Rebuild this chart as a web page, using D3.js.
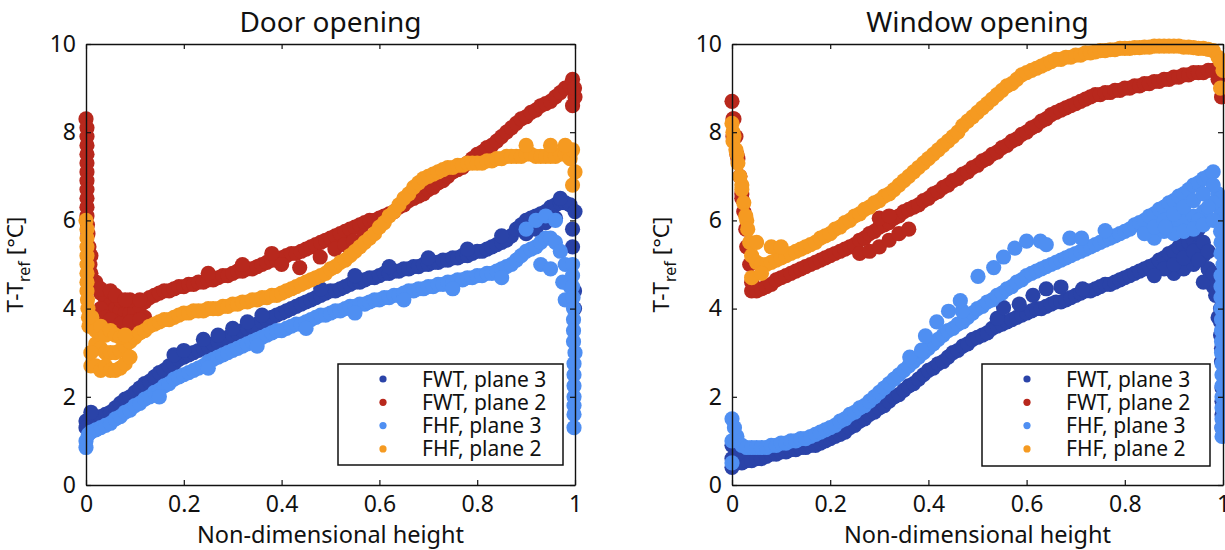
<!DOCTYPE html>
<html>
<head>
<meta charset="utf-8">
<script src="https://cdn.jsdelivr.net/npm/d3@7"></script>
<style>
  html, body { margin: 0; padding: 0; background: #ffffff; }
  svg { display: block; }
  text { font-family: "Noto Sans", "Open Sans", sans-serif; fill: #111; }
</style>
</head>
<body>
<svg id="chart" width="1225" height="550"></svg>
<script>
// Non-dimensional heights of the sampled band centres (step 0.01)
const heights = [0, .01, .02, .03, .04, .05, .06, .07, .08, .09, .10, .11, .12, .13, .14, .15, .16, .17, .18, .19,
  .20, .21, .22, .23, .24, .25, .26, .27, .28, .29, .30, .31, .32, .33, .34, .35, .36, .37, .38, .39,
  .40, .41, .42, .43, .44, .45, .46, .47, .48, .49, .50, .51, .52, .53, .54, .55, .56, .57, .58, .59,
  .60, .61, .62, .63, .64, .65, .66, .67, .68, .69, .70, .71, .72, .73, .74, .75, .76, .77, .78, .79,
  .80, .81, .82, .83, .84, .85, .86, .87, .88, .89, .90, .91, .92, .93, .94, .95, .96, .97, .98, .99, 1.0];

// ---- Door opening: T - T_ref [°C] ----
const doorFwt3 = [1.45, 1.5, 1.5, 1.55, 1.6, 1.65, 1.75, 1.85, 1.95, 2.0,
  2.1, 2.2, 2.3, 2.35, 2.45, 2.55, 2.6, 2.7, 2.75, 2.85,
  2.9, 2.95, 3.0, 3.05, 3.1, 3.15, 3.2, 3.25, 3.3, 3.35,
  3.4, 3.45, 3.5, 3.55, 3.6, 3.65, 3.7, 3.75, 3.8, 3.85,
  3.9, 3.95, 4.0, 4.05, 4.1, 4.15, 4.2, 4.25, 4.3, 4.35,
  4.4, 4.4, 4.45, 4.5, 4.55, 4.6, 4.6, 4.65, 4.7, 4.7,
  4.75, 4.8, 4.8, 4.85, 4.85, 4.9, 4.9, 4.95, 4.95, 5.0,
  5.0, 5.05, 5.05, 5.1, 5.1, 5.15, 5.15, 5.2, 5.2, 5.25,
  5.3, 5.3, 5.35, 5.4, 5.45, 5.5, 5.55, 5.65, 5.8, 5.9,
  6.0, 6.05, 6.1, 6.15, 6.2, 6.3, 6.35, 6.4, 6.4, 6.35, 6.2];
const doorFwt2 = [8.3, 5.2, 4.6, 4.35, 4.2, 4.1, 4.0, 3.95, 3.9, 3.9,
  3.95, 4.05, 4.15, 4.25, 4.3, 4.35, 4.4, 4.4, 4.45, 4.5,
  4.5, 4.55, 4.55, 4.6, 4.6, 4.65, 4.65, 4.7, 4.75, 4.75,
  4.8, 4.85, 4.85, 4.9, 4.9, 4.95, 5.0, 5.05, 5.1, 5.1,
  5.15, 5.2, 5.25, 5.25, 5.3, 5.35, 5.4, 5.45, 5.5, 5.55,
  5.6, 5.65, 5.7, 5.75, 5.8, 5.85, 5.9, 5.95, 6.0, 6.0,
  6.05, 6.1, 6.15, 6.2, 6.3, 6.35, 6.45, 6.5, 6.55, 6.6,
  6.7, 6.75, 6.85, 6.9, 7.0, 7.1, 7.15, 7.2, 7.3, 7.4,
  7.5, 7.55, 7.65, 7.7, 7.8, 7.9, 8.0, 8.1, 8.2, 8.3,
  8.35, 8.45, 8.5, 8.6, 8.65, 8.7, 8.8, 8.9, 9.0, 9.05, 8.8];
const doorFhf3 = [1.0, 1.2, 1.25, 1.3, 1.35, 1.4, 1.5, 1.55, 1.65, 1.7,
  1.8, 1.85, 1.95, 2.0, 2.1, 2.15, 2.25, 2.3, 2.4, 2.45,
  2.5, 2.55, 2.6, 2.65, 2.7, 2.8, 2.85, 2.9, 2.95, 3.0,
  3.05, 3.1, 3.15, 3.2, 3.25, 3.3, 3.35, 3.4, 3.45, 3.5,
  3.5, 3.55, 3.6, 3.65, 3.65, 3.7, 3.75, 3.8, 3.85, 3.85,
  3.9, 3.95, 3.95, 4.0, 4.05, 4.05, 4.1, 4.1, 4.15, 4.2,
  4.2, 4.25, 4.25, 4.3, 4.3, 4.35, 4.4, 4.4, 4.45, 4.45,
  4.5, 4.5, 4.55, 4.55, 4.6, 4.6, 4.65, 4.65, 4.7, 4.7,
  4.75, 4.75, 4.8, 4.8, 4.85, 4.9, 4.95, 5.0, 5.1, 5.2,
  5.3, 5.35, 5.4, 5.5, 5.6, 5.6, 5.5, 5.3, 5.0, 4.5, 3.0];
const doorFhf2 = [6.0, 3.6, 3.2, 3.1, 3.0, 3.0, 3.0, 3.05, 3.15, 3.25,
  3.35, 3.45, 3.5, 3.6, 3.65, 3.7, 3.75, 3.75, 3.8, 3.85,
  3.9, 3.9, 3.95, 3.95, 3.95, 4.0, 4.0, 4.0, 4.05, 4.05,
  4.1, 4.1, 4.15, 4.15, 4.2, 4.2, 4.25, 4.25, 4.3, 4.3,
  4.35, 4.4, 4.45, 4.5, 4.55, 4.6, 4.65, 4.7, 4.75, 4.8,
  4.9, 4.95, 5.05, 5.1, 5.2, 5.3, 5.4, 5.5, 5.6, 5.7,
  5.85, 5.95, 6.1, 6.2, 6.35, 6.5, 6.6, 6.75, 6.85, 6.95,
  7.0, 7.05, 7.1, 7.15, 7.2, 7.2, 7.25, 7.25, 7.3, 7.3,
  7.3, 7.3, 7.35, 7.35, 7.4, 7.4, 7.45, 7.45, 7.45, 7.45,
  7.5, 7.5, 7.45, 7.45, 7.45, 7.45, 7.45, 7.5, 7.5, 7.4, 7.1];

// Extra samples: near-wall columns, band spread and stray points [height, value]
const doorFwt3Extra = [[0, 1.3], [0.01, 1.65], [0.9, 5.7], [0.92, 5.8], [0.94, 5.95], [0.96, 6.05], [0.97, 6.5],
  [0.995, 5.8], [0.995, 5.4], [0.999, 4.4], [0.999, 4.0], [0.18, 2.95], [0.24, 3.3], [0.3, 3.55], [0.36, 3.85],
  [0.2, 3.05], [0.27, 3.4], [0.33, 3.7], [0.48, 4.45], [0.55, 4.75], [0.62, 4.95], [0.7, 5.15], [0.78, 5.35], [0.85, 5.65]];
const doorFwt2Extra = [[0.002, 8.1], [0.002, 7.9], [0.002, 7.7], [0.002, 7.5], [0.002, 7.3], [0.002, 7.1],
  [0.002, 6.9], [0.002, 6.7], [0.002, 6.5], [0.002, 6.3], [0.002, 6.1], [0.003, 5.9], [0.004, 5.7],
  [0.006, 5.4], [0.008, 5.0], [0.01, 4.8], [0.03, 4.45], [0.03, 4.0], [0.04, 3.8], [0.05, 4.4], [0.06, 3.7],
  [0.07, 4.2], [0.08, 3.6], [0.09, 4.2], [0.1, 3.6], [0.11, 4.2], [0.12, 3.8], [0.05, 3.75], [0.07, 3.65],
  [0.09, 3.7], [0.11, 3.75], [0.06, 4.3], [0.08, 4.2],
  [0.995, 9.2], [0.995, 8.6], [0.999, 9.0], [0.437, 4.93], [0.479, 5.17], [0.509, 5.35], [0.529, 5.45],
  [0.547, 5.53], [0.569, 5.65], [0.4, 5.0], [0.25, 4.8], [0.32, 5.0], [0.38, 5.25]];
const doorFhf3Extra = [[0, 0.85], [0.005, 1.15], [0.9, 5.8], [0.92, 6.0], [0.94, 6.1], [0.96, 6.0], [0.93, 5.0],
  [0.95, 4.9], [0.975, 4.6], [0.98, 4.2], [0.995, 5.0], [0.995, 4.75], [0.995, 4.5], [0.996, 4.25],
  [0.997, 4.0], [0.997, 3.75], [0.997, 3.5], [0.997, 3.25], [0.998, 2.75], [0.998, 2.5], [0.998, 2.25],
  [0.998, 2.0], [0.998, 1.8], [0.998, 1.6], [0.998, 1.3], [0.15, 2.0], [0.25, 2.65], [0.35, 3.15], [0.45, 3.55],
  [0.55, 3.9], [0.65, 4.2], [0.75, 4.45], [0.85, 4.7]];
const doorFhf2Extra = [[0.002, 5.8], [0.002, 5.6], [0.002, 5.4], [0.002, 5.2], [0.002, 5.0], [0.002, 4.8],
  [0.002, 4.6], [0.002, 4.4], [0.003, 4.2], [0.004, 4.0], [0.005, 3.8], [0.006, 3.6],
  [0.01, 3.0], [0.01, 2.7], [0.012, 3.8], [0.02, 2.7], [0.02, 3.5], [0.03, 2.6], [0.03, 3.6], [0.04, 2.7],
  [0.04, 3.4], [0.05, 2.6], [0.05, 3.5], [0.06, 2.6], [0.06, 3.4], [0.07, 2.65], [0.07, 3.35], [0.08, 2.75],
  [0.08, 3.4], [0.09, 2.9], [0.995, 6.8], [0.995, 7.6], [0.9, 7.7], [0.95, 7.7], [0.98, 7.7]];

// ---- Window opening: T - T_ref [°C] ----
const windowFwt3 = [0.6, 0.55, 0.5, 0.55, 0.55, 0.6, 0.6, 0.65, 0.7, 0.7,
  0.75, 0.75, 0.8, 0.8, 0.85, 0.85, 0.9, 0.9, 0.95, 1.0,
  1.05, 1.1, 1.15, 1.2, 1.3, 1.35, 1.45, 1.5, 1.6, 1.65,
  1.75, 1.8, 1.9, 2.0, 2.05, 2.15, 2.25, 2.3, 2.4, 2.5,
  2.6, 2.65, 2.75, 2.8, 2.9, 3.0, 3.05, 3.15, 3.2, 3.3,
  3.35, 3.4, 3.45, 3.55, 3.6, 3.65, 3.7, 3.75, 3.8, 3.85,
  3.9, 3.95, 4.0, 4.0, 4.05, 4.1, 4.15, 4.15, 4.2, 4.25,
  4.3, 4.35, 4.4, 4.4, 4.45, 4.5, 4.55, 4.55, 4.6, 4.65,
  4.7, 4.75, 4.8, 4.85, 4.9, 4.95, 5.0, 5.1, 5.15, 5.25,
  5.3, 5.4, 5.45, 5.5, 5.55, 5.4, 5.2, 4.9, 4.5, 3.8, 2.5];
const windowFwt2 = [8.7, 7.5, 6.5, 5.4, 4.4, 4.4, 4.45, 4.5, 4.55, 4.65,
  4.7, 4.75, 4.8, 4.85, 4.9, 4.95, 5.0, 5.05, 5.1, 5.15,
  5.2, 5.25, 5.3, 5.35, 5.4, 5.45, 5.55, 5.6, 5.7, 5.75,
  5.85, 5.9, 5.95, 6.05, 6.1, 6.2, 6.25, 6.3, 6.35, 6.45,
  6.5, 6.6, 6.65, 6.75, 6.8, 6.9, 6.95, 7.05, 7.1, 7.2,
  7.25, 7.35, 7.4, 7.5, 7.55, 7.65, 7.7, 7.8, 7.85, 7.95,
  8.0, 8.1, 8.15, 8.25, 8.3, 8.4, 8.45, 8.5, 8.55, 8.6,
  8.65, 8.7, 8.75, 8.8, 8.85, 8.85, 8.9, 8.9, 8.95, 8.95,
  9.0, 9.0, 9.05, 9.05, 9.1, 9.1, 9.15, 9.15, 9.2, 9.2,
  9.25, 9.25, 9.3, 9.3, 9.35, 9.35, 9.35, 9.4, 9.4, 9.2, 8.9];
const windowFhf3 = [1.0, 1.1, 0.9, 0.85, 0.85, 0.85, 0.85, 0.85, 0.9, 0.9,
  0.95, 0.95, 1.0, 1.0, 1.05, 1.05, 1.1, 1.15, 1.2, 1.25,
  1.3, 1.35, 1.45, 1.5, 1.6, 1.65, 1.75, 1.8, 1.9, 2.0,
  2.1, 2.2, 2.3, 2.4, 2.5, 2.6, 2.7, 2.8, 2.9, 3.0,
  3.1, 3.2, 3.3, 3.4, 3.5, 3.55, 3.65, 3.7, 3.8, 3.9,
  4.0, 4.05, 4.15, 4.2, 4.3, 4.35, 4.45, 4.5, 4.6, 4.65,
  4.75, 4.8, 4.85, 4.9, 4.95, 5.0, 5.05, 5.1, 5.15, 5.2,
  5.25, 5.3, 5.35, 5.4, 5.45, 5.5, 5.55, 5.6, 5.65, 5.7,
  5.75, 5.8, 5.9, 5.95, 6.0, 6.1, 6.15, 6.25, 6.3, 6.4,
  6.45, 6.55, 6.6, 6.7, 6.8, 6.85, 6.95, 7.0, 7.1, 6.6, 5.0];
const windowFhf2 = [8.2, 7.5, 6.8, 6.0, 5.2, 5.05, 5.0, 5.0, 5.05, 5.1,
  5.15, 5.2, 5.25, 5.3, 5.35, 5.4, 5.45, 5.5, 5.6, 5.65,
  5.7, 5.8, 5.85, 5.95, 6.0, 6.1, 6.15, 6.25, 6.3, 6.4,
  6.45, 6.55, 6.6, 6.7, 6.8, 6.9, 7.0, 7.1, 7.2, 7.3,
  7.4, 7.5, 7.6, 7.7, 7.8, 7.9, 8.0, 8.15, 8.25, 8.35,
  8.45, 8.55, 8.65, 8.75, 8.85, 8.95, 9.05, 9.1, 9.2, 9.3,
  9.35, 9.4, 9.45, 9.5, 9.55, 9.6, 9.65, 9.65, 9.7, 9.7,
  9.75, 9.75, 9.8, 9.8, 9.82, 9.85, 9.85, 9.87, 9.87, 9.9,
  9.9, 9.9, 9.92, 9.92, 9.93, 9.93, 9.95, 9.95, 9.95, 9.95,
  9.95, 9.95, 9.93, 9.93, 9.92, 9.9, 9.9, 9.88, 9.85, 9.7, 9.4];

const windowFwt3Extra = [[0, 0.9], [0, 0.4], [0.01, 0.7], [0.9, 4.8], [0.92, 4.9], [0.94, 5.0], [0.93, 5.75],
  [0.95, 5.8], [0.97, 4.9], [0.96, 4.6], [0.995, 4.0], [0.995, 3.7], [0.995, 3.4], [0.997, 3.1], [0.997, 2.8],
  [0.998, 2.2], [0.998, 1.9], [0.998, 1.6], [0.998, 1.3], [0.54, 3.78], [0.553, 4.02], [0.585, 4.1],
  [0.613, 4.3], [0.64, 4.45], [0.67, 4.49], [0.714, 4.45],
  [0.88, 4.9], [0.86, 4.75], [0.9, 5.0], [0.92, 5.15], [0.94, 5.3], [0.95, 5.1], [0.96, 5.5], [0.97, 5.3],
  [0.98, 4.8], [0.985, 4.3]];
const windowFwt2Extra = [[0.002, 8.3], [0.002, 7.9], [0.004, 8.3], [0.008, 7.9], [0.012, 7.4], [0.016, 7.0],
  [0.02, 6.6], [0.024, 6.2], [0.028, 5.8], [0.032, 5.4], [0.036, 5.0], [0.04, 4.6],
  [0.26, 5.25], [0.28, 5.3], [0.3, 5.4], [0.32, 5.55], [0.34, 5.7], [0.36, 5.8], [0.3, 6.05], [0.32, 6.1],
  [0.995, 9.2], [0.997, 8.8]];
const windowFhf3Extra = [[0, 1.5], [0, 0.5], [0.005, 1.3], [0.995, 6.5], [0.995, 6.25], [0.995, 6.0],
  [0.995, 5.75], [0.996, 5.5], [0.996, 5.25], [0.996, 4.75], [0.996, 4.5], [0.996, 4.25], [0.996, 4.0],
  [0.997, 3.75], [0.997, 3.5], [0.997, 3.25], [0.997, 3.0], [0.998, 2.75], [0.998, 2.5], [0.998, 2.25],
  [0.998, 2.0], [0.998, 1.75], [0.998, 1.5], [0.998, 1.3], [0.998, 1.1], [0.86, 5.6], [0.88, 5.75],
  [0.9, 5.9], [0.92, 6.0], [0.94, 6.1], [0.96, 6.2], [0.98, 6.4], [0.98, 6.8],
  [0.84, 5.7], [0.86, 5.85], [0.88, 6.0], [0.9, 6.15], [0.92, 6.3], [0.94, 6.45], [0.96, 6.6], [0.97, 6.3],
  [0.95, 6.0], [0.9, 5.7], [0.92, 5.75], [0.94, 5.8], [0.96, 5.9], [0.98, 6.0],
  [0.362, 2.9], [0.386, 3.06], [0.394, 3.38], [0.417, 3.7], [0.441, 3.94], [0.469, 3.95], [0.465, 4.18],
  [0.501, 4.73], [0.533, 4.93], [0.553, 5.17], [0.576, 5.37], [0.6, 5.53], [0.628, 5.53], [0.64, 5.45],
  [0.688, 5.6], [0.712, 5.6], [0.76, 5.77], [0.883, 5.85]];
const windowFhf2Extra = [[0.002, 8.0], [0.002, 7.8], [0.004, 7.9], [0.008, 7.6], [0.012, 7.3], [0.016, 7.0],
  [0.02, 6.7], [0.024, 6.4], [0.028, 6.1], [0.032, 5.8], [0.036, 5.5], [0.04, 4.7], [0.05, 5.5],
  [0.06, 4.8], [0.08, 5.4], [0.1, 5.4], [0.995, 9.0], [0.995, 9.6]];

const seriesNames = ["FWT, plane 3", "FWT, plane 2", "FHF, plane 3", "FHF, plane 2"];
const seriesColors = ["#2a43a8", "#b8281d", "#4f8ff2", "#f59a21"];
const xTicks = [0, 0.2, 0.4, 0.6, 0.8, 1];
const yTicks = [0, 2, 4, 6, 8, 10];

function buildSeries(values, extra) {
  return heights.map((h, i) => [h, values[i]]).concat(extra);
}

const panels = [
  { title: "Door opening", left: 86, right: 575,
    series: [buildSeries(doorFwt3, doorFwt3Extra), buildSeries(doorFwt2, doorFwt2Extra),
             buildSeries(doorFhf3, doorFhf3Extra), buildSeries(doorFhf2, doorFhf2Extra)],
    legend: { x: 338, y: 364, w: 225, h: 101 } },
  { title: "Window opening", left: 732, right: 1223,
    series: [buildSeries(windowFwt3, windowFwt3Extra), buildSeries(windowFwt2, windowFwt2Extra),
             buildSeries(windowFhf3, windowFhf3Extra), buildSeries(windowFhf2, windowFhf2Extra)],
    legend: { x: 982, y: 364, w: 228, h: 102 } }
];

const plotTop = 44, plotBottom = 485;
const svg = d3.select("#chart");

panels.forEach(p => {
  const x = d3.scaleLinear().domain([0, 1]).range([p.left, p.right]);
  const y = d3.scaleLinear().domain([0, 10]).range([plotBottom, plotTop]);
  const g = svg.append("g");

  // scatter bands, one layer per series in legend order
  p.series.forEach((pts, si) => {
    g.append("g").selectAll("circle").data(pts).join("circle")
      .attr("cx", d => x(d[0]))
      .attr("cy", d => y(d[1]))
      .attr("r", 7.6)
      .attr("fill", seriesColors[si]);
  });

  // box axes with inward ticks on all four sides
  const tickLen = 5;
  const axB = g.append("g").attr("transform", `translate(0,${plotBottom})`)
    .call(d3.axisBottom(x).tickValues(xTicks).tickFormat(d3.format("")).tickSizeInner(-tickLen).tickSizeOuter(0).tickPadding(11));
  const axT = g.append("g").attr("transform", `translate(0,${plotTop})`)
    .call(d3.axisTop(x).tickValues(xTicks).tickFormat("").tickSizeInner(-tickLen).tickSizeOuter(0));
  const axL = g.append("g").attr("transform", `translate(${p.left},0)`)
    .call(d3.axisLeft(y).tickValues(yTicks).tickFormat(d3.format("")).tickSizeInner(-tickLen).tickSizeOuter(0).tickPadding(10));
  const axR = g.append("g").attr("transform", `translate(${p.right},0)`)
    .call(d3.axisRight(y).tickValues(yTicks).tickFormat("").tickSizeInner(-tickLen).tickSizeOuter(0));
  [axB, axT, axL, axR].forEach(a => {
    a.select(".domain").attr("stroke", "#111").attr("stroke-width", 1.4);
    a.selectAll(".tick line").attr("stroke", "#111").attr("stroke-width", 1.2);
    a.selectAll(".tick text").attr("font-size", 23).attr("font-family", "Noto Sans, sans-serif").attr("fill", "#111");
  });

  const cx = (p.left + p.right) / 2;
  g.append("text").attr("x", cx).attr("y", 32).attr("text-anchor", "middle")
    .attr("font-size", 28).text(p.title);
  g.append("text").attr("x", cx).attr("y", 543).attr("text-anchor", "middle")
    .attr("font-size", 23.5).text("Non-dimensional height");

  const yl = g.append("text")
    .attr("transform", `translate(${p.left - 63},${(plotTop + plotBottom) / 2}) rotate(-90)`)
    .attr("text-anchor", "middle").attr("font-size", 22.5);
  yl.append("tspan").text("T-T");
  yl.append("tspan").attr("font-size", 16).attr("dy", 7).text("ref");
  yl.append("tspan").attr("dy", -7).text(" [°C]");

  // legend
  const L = p.legend;
  const lg = g.append("g");
  lg.append("rect").attr("x", L.x).attr("y", L.y).attr("width", L.w).attr("height", L.h)
    .attr("fill", "#fff").attr("stroke", "#111").attr("stroke-width", 1.5);
  seriesNames.forEach((name, i) => {
    const ry = L.y + 15 + i * 23.3;
    lg.append("circle").attr("cx", L.x + 45).attr("cy", ry).attr("r", 3.6).attr("fill", seriesColors[i]);
    lg.append("text").attr("x", L.x + 84).attr("y", ry + 7.5).attr("font-size", 21).text(name);
  });
});
</script>
</body>
</html>
